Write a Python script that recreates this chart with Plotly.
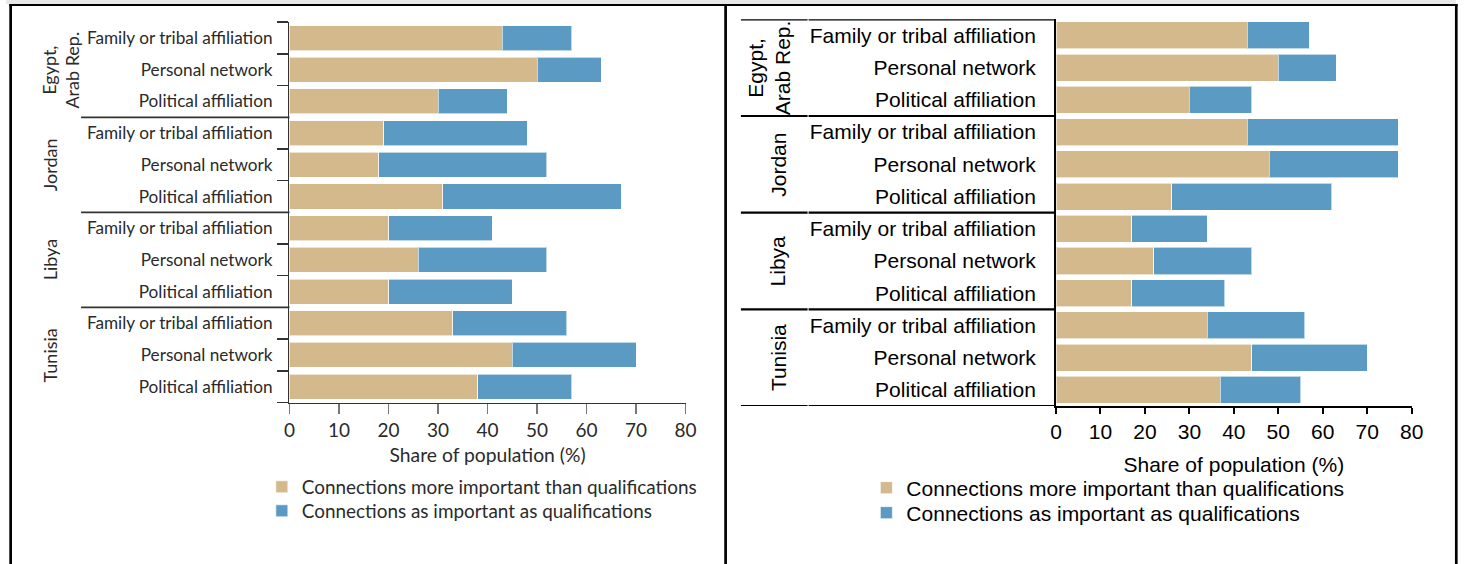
import plotly.graph_objects as go

W, H = 1475, 564

countries = ["Egypt,<br>Arab Rep.", "Jordan", "Libya", "Tunisia"]
categories = ["Family or tribal affiliation", "Personal network", "Political affiliation"]
row_labels = [c for _ in countries for c in categories]
series_names = ["Connections more important than qualifications",
                "Connections as important as qualifications"]
x_ticks = [0, 10, 20, 30, 40, 50, 60, 70, 80]

# Left panel (original figure)
left_more = [43, 50, 30, 19, 18, 31, 20, 26, 20, 33, 45, 38]
left_as = [14, 13, 14, 29, 34, 36, 21, 26, 25, 23, 25, 19]
# Right panel (recreation)
right_more = [43, 50, 30, 43, 48, 26, 17, 22, 17, 34, 44, 37]
right_as = [14, 13, 14, 34, 29, 36, 17, 22, 21, 22, 26, 18]

TAN = "#D3B98C"
BLUE = "#5B9BC3"
rows = list(range(len(row_labels)))

LFONT = "Lato, Liberation Sans, sans-serif"
RFONT = "Liberation Sans, Arial, sans-serif"
LCOL = "#2a2a2a"


def px(x):
    return x / W


def py(y):
    return 1 - y / H


fig = go.Figure()

# left bars (each series in its own one-item legend)
for vals, col, name, lg in [(left_more, TAN, series_names[0], "legend"),
                            (left_as, BLUE, series_names[1], "legend2")]:
    fig.add_trace(go.Bar(y=rows, x=vals, orientation="h", name=name, width=0.79,
                         marker=dict(color=col, line=dict(color="rgba(255,255,255,0.6)", width=1)),
                         xaxis="x", yaxis="y", legend=lg, hoverinfo="skip"))
# right bars
for vals, col, name, lg in [(right_more, TAN, series_names[0], "legend3"),
                            (right_as, BLUE, series_names[1], "legend4")]:
    fig.add_trace(go.Bar(y=rows, x=vals, orientation="h", name=name, width=0.84,
                         marker=dict(color=col, line=dict(color="rgba(255,255,255,0.6)", width=1)),
                         xaxis="x2", yaxis="y2", legend=lg, hoverinfo="skip"))

n = len(row_labels)


def leg(x, y, family, size, color):
    return dict(x=px(x), xanchor="left", y=py(y), yanchor="middle",
                font=dict(family=family, size=size, color=color), bgcolor="rgba(0,0,0,0)",
                borderwidth=0, itemclick=False, itemdoubleclick=False)


fig.update_layout(
    width=W, height=H,
    margin=dict(l=0, r=0, t=0, b=0, pad=0),
    autosize=False,
    paper_bgcolor="white", plot_bgcolor="white",
    barmode="stack",
    xaxis=dict(domain=[px(287), px(688)], range=[0, 80], tickvals=x_ticks,
               showgrid=False, zeroline=False, showline=True, linecolor="#333", linewidth=1.5,
               ticks="outside", ticklen=10, tickwidth=1.5, tickcolor="#777",
               tickfont=dict(family=LFONT, size=19, color=LCOL),
               title=dict(text="Share of population (%)", font=dict(family=LFONT, size=19.3, color=LCOL),
                          standoff=8),
               anchor="y", fixedrange=True),
    yaxis=dict(domain=[py(402.5), py(22.2)], range=[n - 0.5, -0.5], tickvals=rows, ticktext=row_labels,
               showgrid=False, zeroline=False, showline=True, linecolor="#333", linewidth=1.5,
               ticks="", ticklabelstandoff=12,
               minor=dict(tick0=-0.5, dtick=1, ticks="outside", ticklen=11, tickwidth=1.5, tickcolor="#333"),
               tickfont=dict(family=LFONT, size=17.2, color=LCOL),
               anchor="x", fixedrange=True),
    xaxis2=dict(domain=[px(1063), px(1423)], range=[0, 80], tickvals=x_ticks,
                showgrid=False, zeroline=False, showline=True, linecolor="black", linewidth=2,
                ticks="outside", ticklen=6, tickwidth=2, tickcolor="black",
                tickfont=dict(family=RFONT, size=21, color="black"),
                title=dict(text="Share of population (%)", font=dict(family=RFONT, size=21, color="black"),
                           standoff=15),
                anchor="y2", fixedrange=True),
    yaxis2=dict(domain=[py(406), py(19.3)], range=[n - 0.5, -0.5], tickvals=rows, ticktext=row_labels,
                showgrid=False, zeroline=False, showline=True, linecolor="black", linewidth=2,
                ticks="", ticklabelstandoff=14,
                tickfont=dict(family=RFONT, size=21, color="black"),
                anchor="x2", fixedrange=True),
    legend=leg(259, 487, LFONT, 18.9, LCOL),
    legend2=leg(259, 511, LFONT, 18.9, LCOL),
    legend3=leg(871, 488, RFONT, 21, "black"),
    legend4=leg(871, 513, RFONT, 21, "black"),
    showlegend=True,
)

shapes = []
# frame of the comparison table
shapes.append(dict(type="rect", xref="paper", yref="paper", x0=0, x1=px(1468), y0=py(4), y1=1,
                   fillcolor="#E8E8E8", line=dict(width=0), layer="below"))
shapes.append(dict(type="line", xref="paper", yref="paper", x0=px(3.5), x1=px(1469.5), y0=py(5), y1=py(5),
                   line=dict(color="black", width=2.2)))
for xv in [4.7, 728.5, 1468.2]:
    shapes.append(dict(type="line", xref="paper", yref="paper", x0=px(xv), x1=px(xv), y0=0, y1=py(4),
                       line=dict(color="black", width=2.7)))

# left panel group separators
group_bounds = [2.5, 5.5, 8.5]
for b in group_bounds:
    shapes.append(dict(type="line", xref="paper", yref="y", x0=px(76), x1=px(287), y0=b, y1=b,
                       line=dict(color="#333", width=1.8)))
# right panel group separators (two table columns)
for b in [-0.5] + group_bounds + [n - 0.5]:
    shapes.append(dict(type="line", xref="paper", yref="y2", x0=px(744), x1=px(811.5), y0=b, y1=b,
                       line=dict(color="black", width=2.2)))
    shapes.append(dict(type="line", xref="paper", yref="y2", x0=px(812.5), x1=px(1063), y0=b, y1=b,
                       line=dict(color="black", width=2.2)))
fig.update_layout(shapes=shapes)

annotations = []
centers = [1, 4, 7, 10]
left_x = [55.5, 44, 44, 44]
right_x = [772, 782, 782, 782]
for c, yc, lx, rx in zip(countries, centers, left_x, right_x):
    annotations.append(dict(text=c, xref="paper", yref="y", x=px(lx), y=yc, textangle=-90,
                            showarrow=False, xanchor="center", yanchor="middle",
                            font=dict(family=LFONT, size=18, color=LCOL)))
    annotations.append(dict(text=c, xref="paper", yref="y2", x=px(rx), y=yc, textangle=-90,
                            showarrow=False, xanchor="center", yanchor="middle",
                            font=dict(family=RFONT, size=21, color="black")))
fig.update_layout(annotations=annotations)

fig.write_html(
    "out.html",
    config=dict(responsive=False, displayModeBar=False, staticPlot=True),
    post_script=("document.documentElement.style.overflow='hidden';"
                 "document.body.style.margin='0';document.body.style.padding='0';"
                 "document.body.style.overflow='hidden';"),
)
